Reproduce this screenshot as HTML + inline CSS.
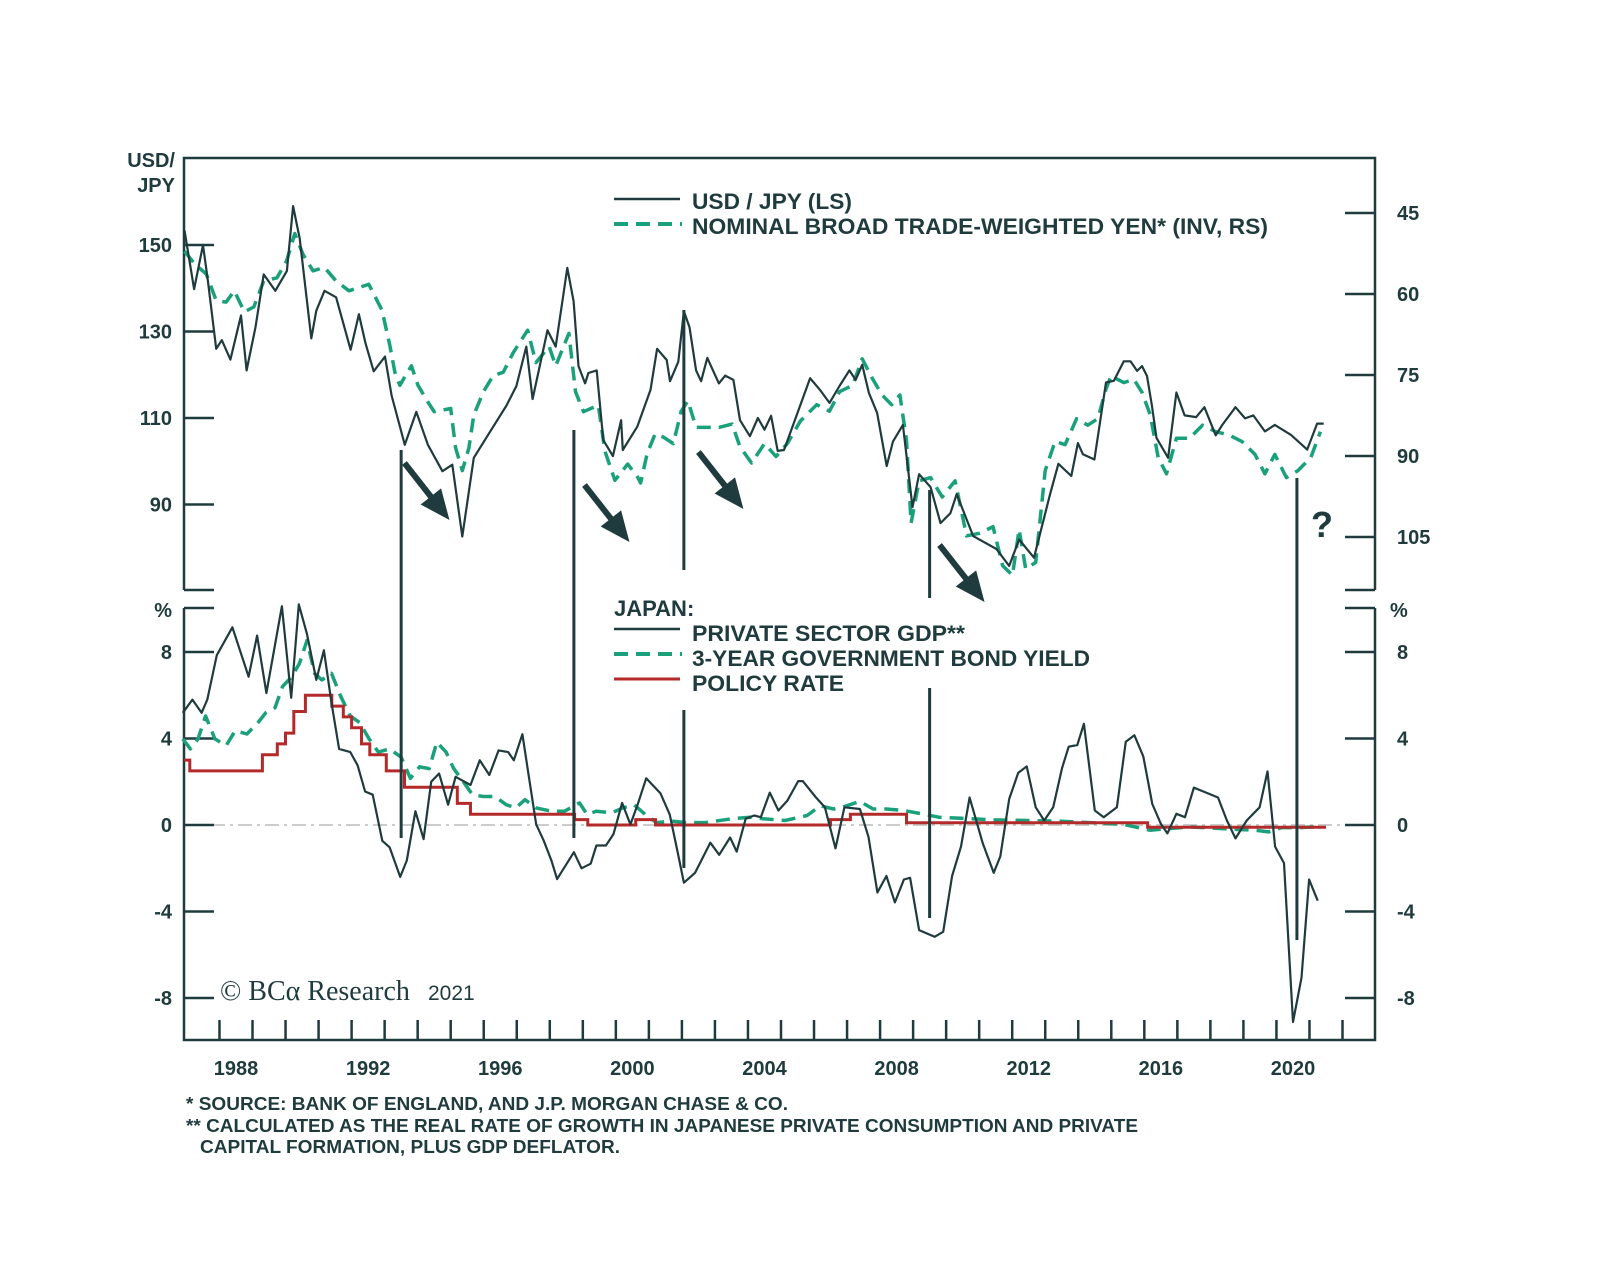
<!DOCTYPE html>
<html><head><meta charset="utf-8"><title>USD/JPY vs Japan rates</title>
<style>
html,body{margin:0;padding:0;background:#fff;}
svg{display:block;}
text{font-family:"Liberation Sans",Arial,sans-serif;font-weight:bold;fill:#1f3b3d;}
text.serif{font-family:"Liberation Serif",serif;font-weight:normal;}
</style></head>
<body>
<svg id="chart" width="1600" height="1272" viewBox="0 0 1600 1272" xmlns="http://www.w3.org/2000/svg">
<rect width="1600" height="1272" fill="#fff"/>
<g id="frame" stroke="#1f3b3d" stroke-width="2.5" fill="none">
  <path d="M184,590 L184,158 L1375,158 L1375,590"/>
  <path d="M184,590 L214,590 M1345,590 L1375,590"/>
  <path d="M184,608 L214,608 M1345,608 L1375,608"/>
  <path d="M184,608 L184,1040 L1375,1040 L1375,608"/>
</g>
<line x1="184" y1="825" x2="1375" y2="825" stroke="#bbb" stroke-width="1.5" stroke-dasharray="14,5,3,5"/>
<g id="axes"></g>
<g id="series"></g>
<g id="annot"></g>

<text x="175" y="167" text-anchor="end" font-size="20">USD/</text>
<text x="175" y="192" text-anchor="end" font-size="20">JPY</text>
<text x="172" y="617" text-anchor="end" font-size="20">%</text>
<text x="1390" y="617" font-size="20">%</text>

<g>
  <line x1="614" y1="199" x2="680" y2="199" stroke="#1f3b3d" stroke-width="2.5"/>
  <text x="692" y="209" font-size="22" textLength="160" lengthAdjust="spacingAndGlyphs">USD / JPY (LS)</text>
  <line x1="614" y1="224" x2="682" y2="224" stroke="#1aa07a" stroke-width="4" stroke-dasharray="14,8"/>
  <text x="692" y="234" font-size="22" textLength="576" lengthAdjust="spacingAndGlyphs">NOMINAL BROAD TRADE-WEIGHTED YEN* (INV, RS)</text>
</g>
<g>
  <text x="614" y="616" font-size="22">JAPAN:</text>
  <line x1="614" y1="629" x2="680" y2="629" stroke="#1f3b3d" stroke-width="2.5"/>
  <text x="692" y="641" font-size="22" textLength="273" lengthAdjust="spacingAndGlyphs">PRIVATE SECTOR GDP**</text>
  <line x1="614" y1="654" x2="682" y2="654" stroke="#1aa07a" stroke-width="4" stroke-dasharray="14,8"/>
  <text x="692" y="666" font-size="22" textLength="398" lengthAdjust="spacingAndGlyphs">3-YEAR GOVERNMENT BOND YIELD</text>
  <line x1="614" y1="679" x2="680" y2="679" stroke="#b42a2a" stroke-width="3"/>
  <text x="692" y="691" font-size="22" textLength="152" lengthAdjust="spacingAndGlyphs">POLICY RATE</text>
</g>
<text x="1311" y="537" font-size="36">?</text>
<g>
  <text class="serif" x="220" y="1000" font-size="28">© BCα Research</text>
  <text x="428" y="1000" font-weight="normal" style="font-weight:normal" font-size="21">2021</text>
</g>
<g>
  <text x="186" y="1110" font-size="18.5" textLength="602" lengthAdjust="spacingAndGlyphs">*  SOURCE: BANK OF ENGLAND, AND J.P. MORGAN CHASE &amp; CO.</text>
  <text x="186" y="1132" font-size="18.5" textLength="952" lengthAdjust="spacingAndGlyphs">** CALCULATED AS THE REAL RATE OF GROWTH IN JAPANESE PRIVATE CONSUMPTION AND PRIVATE</text>
  <text x="200" y="1153" font-size="18.5" textLength="420" lengthAdjust="spacingAndGlyphs">CAPITAL FORMATION, PLUS GDP DEFLATOR.</text>
</g>
</svg>

<script>
// ---- data ----
const usdT=[1986.94,1987.23,1987.50,1987.65,1987.90,1988.07,1988.33,1988.65,1988.82,1989.09,1989.34,1989.69,1990.04,1990.23,1990.43,1990.78,1990.93,1991.18,1991.53,1991.97,1992.22,1992.42,1992.67,1993.01,1993.21,1993.61,1993.96,1994.31,1994.75,1995.05,1995.35,1995.70,1996.19,1996.69,1996.99,1997.29,1997.48,1997.93,1998.18,1998.53,1998.72,1998.87,1999.07,1999.17,1999.42,1999.62,1999.91,2000.16,2000.21,2000.65,2001.05,2001.25,2001.54,2001.64,2001.89,2002.06,2002.23,2002.43,2002.58,2002.77,2003.12,2003.31,2003.56,2003.76,2004.06,2004.30,2004.50,2004.70,2004.90,2005.09,2005.49,2005.88,2006.18,2006.47,2006.77,2007.07,2007.26,2007.46,2007.66,2007.91,2008.20,2008.39,2008.69,2008.98,2009.18,2009.53,2009.83,2010.13,2010.32,2010.82,2011.52,2011.91,2012.21,2012.66,2013.15,2013.40,2013.79,2013.99,2014.14,2014.49,2014.84,2015.08,2015.38,2015.58,2015.78,2015.93,2016.08,2016.23,2016.37,2016.72,2016.97,2017.22,2017.57,2017.82,2018.16,2018.36,2018.76,2019.05,2019.30,2019.65,2019.95,2020.44,2020.93,2021.23,2021.43];
const usdV=[153.4,139.8,150,141.7,126,128,123.5,133.7,121,131,143.2,139.4,144,159,151.5,128.4,134.8,139.4,137.9,125.8,134,127.3,120.8,124.2,115.2,103.8,111.4,103.8,97.7,99.2,82.6,100.8,106.8,112.9,117.4,126.5,114.4,130.3,126.5,144.7,137,122,118,120.4,121,104.9,101.2,109.5,102.6,108,116.5,126,123.4,118.5,123,134.7,131,121,118.5,123.9,118,119.8,118.8,109.5,105.8,110,107.3,110.5,102.4,102.6,111,119.2,116.5,113.5,117.4,121,118.8,122.3,115.8,111.2,98.9,104.6,108.4,89.4,97,94,85.7,88,92.4,82.7,79.7,75.8,81.9,77.7,92.5,99.4,96.6,104.2,101.6,100.4,118.2,118.6,123.1,123.1,120.9,122,119.7,112.9,105.4,100.8,115.9,110.6,110.2,112.5,106,108.4,112.5,109.9,110.6,106.9,108.4,106.1,102.7,108.7,108.7];
const yenT=[1986.94,1987.26,1987.60,1987.90,1988.20,1988.45,1988.75,1989.04,1989.34,1989.74,1990.03,1990.28,1990.53,1990.83,1991.18,1991.53,1991.92,1992.52,1992.92,1993.16,1993.31,1993.46,1993.81,1994.01,1994.31,1994.50,1995.00,1995.15,1995.35,1995.55,1995.70,1995.99,1996.29,1996.59,1996.89,1997.14,1997.33,1997.58,1997.98,1998.18,1998.58,1998.78,1999.02,1999.47,1999.67,1999.97,2000.36,2000.66,2000.75,2000.95,2001.19,2001.44,2001.74,2001.98,2002.18,2002.43,2002.73,2003.12,2003.52,2003.76,2004.11,2004.50,2004.85,2005.19,2005.59,2006.08,2006.47,2006.77,2007.17,2007.46,2007.76,2008.06,2008.35,2008.60,2008.80,2008.94,2009.18,2009.53,2009.88,2010.27,2010.62,2011.02,2011.42,2011.71,2012.01,2012.21,2012.41,2012.71,2013.00,2013.30,2013.60,2013.95,2014.29,2014.59,2014.84,2014.99,2015.38,2015.68,2015.93,2016.18,2016.42,2016.67,2016.97,2017.37,2017.76,2018.16,2018.56,2018.95,2019.35,2019.65,2019.95,2020.30,2020.65,2021.04,2021.33];
const yenV=[52.1,54.5,56.3,61.2,61.5,59.4,63.3,62.4,57.6,57,53.9,48.8,52.7,55.7,55.1,57.6,59.4,58.2,63,69.6,74.5,76.9,73.3,76.9,80,81.8,81.2,88.5,92.7,88.5,82.4,78.1,75.1,74.5,70.9,68.5,66.7,72.7,69.7,73.3,67.3,78.1,81.8,80.6,89.1,94.5,91.5,93.9,95,89.5,85.9,86.5,87.7,81.7,79.8,84.7,84.7,84.7,84.1,88.3,91.3,87.7,90.1,87.7,83.5,80.5,81.7,78.1,76.9,72,75.6,78.7,80.5,78.7,87.1,102.4,94.6,94,97.6,94.6,104.8,104.3,103.1,110.3,112.1,103.6,110.9,109.7,92.7,87.3,87.9,83.1,84.3,83.1,77.6,75.2,76.4,75.8,78.2,82.4,90.3,93.3,86.7,86.7,84.3,85.5,86.1,87.3,89.7,93.3,89.7,94,92.7,90.3,85.5];
const gdpT=[1986.89,1987.18,1987.46,1987.63,1987.92,1988.39,1988.88,1989.14,1989.42,1989.89,1990.17,1990.40,1990.65,1990.93,1991.16,1991.39,1991.62,1991.96,1992.18,1992.41,1992.64,1992.93,1993.15,1993.47,1993.67,1993.93,1994.18,1994.41,1994.65,1994.92,1995.15,1995.60,1995.88,1996.17,1996.45,1996.74,1996.91,1997.17,1997.36,1997.59,1997.82,1998.05,1998.22,1998.73,1998.96,1999.24,1999.41,1999.70,1999.93,2000.19,2000.44,2000.66,2000.92,2001.35,2001.63,2001.86,2002.06,2002.40,2002.86,2003.13,2003.46,2003.66,2003.93,2004.19,2004.39,2004.66,2004.92,2005.19,2005.52,2005.66,2006.06,2006.33,2006.65,2006.92,2007.39,2007.65,2007.92,2008.19,2008.45,2008.72,2008.91,2009.18,2009.65,2009.91,2010.18,2010.45,2010.71,2011.11,2011.44,2011.64,2011.91,2012.18,2012.44,2012.71,2012.97,2013.24,2013.51,2013.71,2013.97,2014.17,2014.50,2014.77,2015.17,2015.44,2015.70,2015.97,2016.24,2016.50,2016.70,2016.97,2017.23,2017.50,2018.23,2018.50,2018.76,2019.10,2019.49,2019.73,2019.96,2020.23,2020.50,2020.76,2020.99,2021.25];
const gdpV=[5.19,5.8,5.19,5.8,7.85,9.14,6.86,8.76,6.1,10.12,5.88,10.2,8.83,6.71,8.08,5.65,3.52,3.37,2.76,1.55,1.4,-0.73,-1.03,-2.4,-1.64,0.64,-0.65,2.0,2.38,0.94,2.23,1.85,2.99,2.31,3.45,3.37,2.99,4.2,2.31,0.03,-0.73,-1.64,-2.5,-1.26,-2.0,-1.79,-0.95,-0.95,-0.42,1.02,0.03,0.94,2.16,1.47,0.49,-1.18,-2.67,-2.21,-0.82,-1.38,-0.58,-1.23,0.29,0.44,0.36,1.5,0.67,1.12,2.03,2.03,1.27,0.82,-1.08,0.82,0.74,-0.55,-3.12,-2.36,-3.58,-2.52,-2.44,-4.86,-5.17,-4.94,-2.36,-1.0,1.27,-0.85,-2.21,-1.45,1.2,2.41,2.71,0.82,0.21,0.82,2.64,3.62,3.7,4.68,0.67,0.36,0.82,3.85,4.15,3.17,0.97,0.06,-0.39,0.52,0.36,1.73,1.27,0.21,-0.62,0.21,0.82,2.48,-1.0,-1.76,-9.11,-7.06,-2.52,-3.5];
const jgbT=[1986.89,1987.12,1987.35,1987.58,1987.86,1988.20,1988.48,1988.83,1989.17,1989.40,1989.68,1989.91,1990.19,1990.42,1990.65,1990.88,1991.10,1991.39,1991.67,1991.96,1992.24,1992.53,1992.81,1993.15,1993.50,1993.78,1994.06,1994.35,1994.58,1994.86,1995.09,1995.31,1995.66,1995.99,1996.34,1996.68,1996.97,1997.25,1997.59,1998.05,1998.45,1998.90,1999.13,1999.41,1999.87,2000.21,2000.55,2000.89,2001.23,2001.69,2002.14,2002.71,2003.53,2004.06,2004.46,2005.12,2005.79,2006.19,2006.59,2006.85,2007.39,2007.79,2008.19,2008.72,2009.25,2009.78,2010.71,2011.38,2012.44,2013.38,2014.70,2015.37,2016.17,2016.70,2017.37,2018.03,2018.70,2019.36,2019.76,2020.16,2020.69,2021.15];
const jgbV=[3.98,3.52,3.98,5.04,3.98,3.67,4.36,4.21,4.74,5.19,5.42,6.41,6.86,7.47,8.53,7.01,6.71,7.01,5.95,5.04,4.74,3.98,3.37,3.52,3.14,2.16,2.69,2.61,3.83,3.37,2.61,2.16,1.4,1.32,1.32,0.94,0.79,1.17,0.79,0.64,0.64,1.02,0.49,0.64,0.56,0.79,0.94,0.49,0.11,0.18,0.11,0.11,0.29,0.36,0.29,0.21,0.44,0.89,0.74,0.82,1.09,0.74,0.74,0.67,0.52,0.36,0.29,0.24,0.21,0.18,0.09,0.03,-0.24,-0.17,-0.09,-0.14,-0.2,-0.24,-0.32,-0.12,-0.12,-0.09];
const rateT=[1986.93,1987.1,1989.3,1989.75,1990.0,1990.25,1990.6,1991.4,1991.75,1992.0,1992.3,1992.55,1993.05,1993.6,1995.2,1995.6,1998.75,1999.15,2000.6,2001.2,2006.5,2007.1,2008.8,2016.1,2021.5];
const rateV=[3.0,2.5,3.25,3.75,4.25,5.25,6.0,5.5,5.0,4.5,3.75,3.25,2.5,1.75,1.0,0.5,0.25,0.0,0.25,0.0,0.25,0.5,0.1,-0.1,-0.1];
const leftTicks=[150,130,110,90];
const rightTicks=[45,60,75,90,105];
const pctTicks=[8,4,0,-4,-8];
const yearTicks=[1988,1989,1990,1991,1992,1993,1994,1995,1996,1997,1998,1999,2000,2001,2002,2003,2004,2005,2006,2007,2008,2009,2010,2011,2012,2013,2014,2015,2016,2017,2018,2019,2020,2021,2022];
const yearLabels=[1988,1992,1996,2000,2004,2008,2012,2016,2020];
const eventT=[1993.5,1998.73,2002.06,2009.5,2020.62];
const arrowT=[1993.6,1999.05,2002.5,2009.8];

// ---- scales ----
const xs=t=>236+(t-1988.5)*33.03;
const yL=v=>245+(150-v)*4.325;
const yR=v=>213+(v-45)*5.4;
const yB=v=>825-v*21.625;
const NS="http://www.w3.org/2000/svg";
function mk(tag,parent,attrs){const e=document.createElementNS(NS,tag);for(const k in attrs)e.setAttribute(k,attrs[k]);parent.appendChild(e);return e;}
const axes=document.getElementById('axes'), ser=document.getElementById('series'), ann=document.getElementById('annot');
const TC="#1f3b3d";

leftTicks.forEach(v=>{const y=yL(v);
  const l=mk('line',axes,{x1:184,y1:y,x2:214,y2:y,stroke:TC,'stroke-width':2.5});
  
  
  const t=mk('text',axes,{x:172,y:y+7,'text-anchor':'end','font-size':20});t.textContent=v;
  
  });
rightTicks.forEach(v=>{const y=yR(v);
  const l=mk('line',axes,{x1:1345,y1:y,x2:1375,y2:y,stroke:TC,'stroke-width':2.5});
  
  
  const t=mk('text',axes,{x:1397,y:y+7,'font-size':20});t.textContent=v;
  
  });
pctTicks.forEach(v=>{const y=yB(v);
  const l=mk('line',axes,{x1:184,y1:y,x2:214,y2:y,stroke:TC,'stroke-width':2.5});
  
  
  const r=mk('line',axes,{x1:1345,y1:y,x2:1375,y2:y,stroke:TC,'stroke-width':2.5});
  
  
  const t=mk('text',axes,{x:172,y:y+7,'text-anchor':'end','font-size':20});t.textContent=v;
  
  
  const t2=mk('text',axes,{x:1397,y:y+7,'font-size':20});t2.textContent=v;
  
  });
yearTicks.forEach(yr=>{const x=xs(yr);
  const l=mk('line',axes,{x1:x,y1:1040,x2:x,y2:1020,stroke:TC,'stroke-width':2.5});
  
  });
yearLabels.forEach(yr=>{
  const t=mk('text',axes,{x:xs(yr+0.5),y:1075,'text-anchor':'middle','font-size':20});t.textContent=yr;
  
  });

function line(T,V,fy,attrs,name){
  const pts=T.map((t,i)=>xs(t).toFixed(1)+','+fy(V[i]).toFixed(1)).join(' ');
  const p=mk('polyline',ser,Object.assign({points:pts,fill:'none','stroke-linejoin':'round'},attrs));
  
  
}
line(yenT,yenV,yR,{stroke:'#1aa07a','stroke-width':3.5,'stroke-dasharray':'14,8'},'series-trade-weighted-yen');
line(usdT,usdV,yL,{stroke:TC,'stroke-width':2.2},'series-usd-jpy');
line(jgbT,jgbV,yB,{stroke:'#1aa07a','stroke-width':3.5,'stroke-dasharray':'14,8'},'series-3y-jgb-yield');
(function(){let pts=[];for(let i=0;i<rateT.length;i++){if(i>0)pts.push(xs(rateT[i]).toFixed(1)+','+yB(rateV[i-1]).toFixed(1));pts.push(xs(rateT[i]).toFixed(1)+','+yB(rateV[i]).toFixed(1));}
  const p=mk('polyline',ser,{points:pts.join(' '),fill:'none',stroke:'#b42a2a','stroke-width':3});
  
  })();
line(gdpT,gdpV,yB,{stroke:TC,'stroke-width':2.2},'series-private-gdp');

const evSeg=[[[450,838]],[[430,838]],[[310,570],[710,868]],[[490,598],[688,918]],[[478,940]]];
eventT.forEach((t,i)=>{evSeg[i].forEach(s=>{
  const l=mk('line',ann,{x1:xs(t),y1:s[0],x2:xs(t),y2:s[1],stroke:TC,'stroke-width':3});
  
  });});
const arrowY=[463,485,452,545];
arrowT.forEach((t,i)=>{const x0=xs(t),y0=arrowY[i],x1=x0+45,y1=y0+57;
  const l=mk('line',ann,{x1:x0,y1:y0,x2:x1-12,y2:y1-15,stroke:TC,'stroke-width':6});
  
  
  const ang=Math.atan2(57,45),L=30,W=13;
  const bx=x1-L*Math.cos(ang),by=y1-L*Math.sin(ang),px=-Math.sin(ang)*W,py=Math.cos(ang)*W;
  const h=mk('polygon',ann,{points:x1+','+y1+' '+(bx+px)+','+(by+py)+' '+(bx-px)+','+(by-py),fill:TC});
  
  });
</script>
</body></html>
